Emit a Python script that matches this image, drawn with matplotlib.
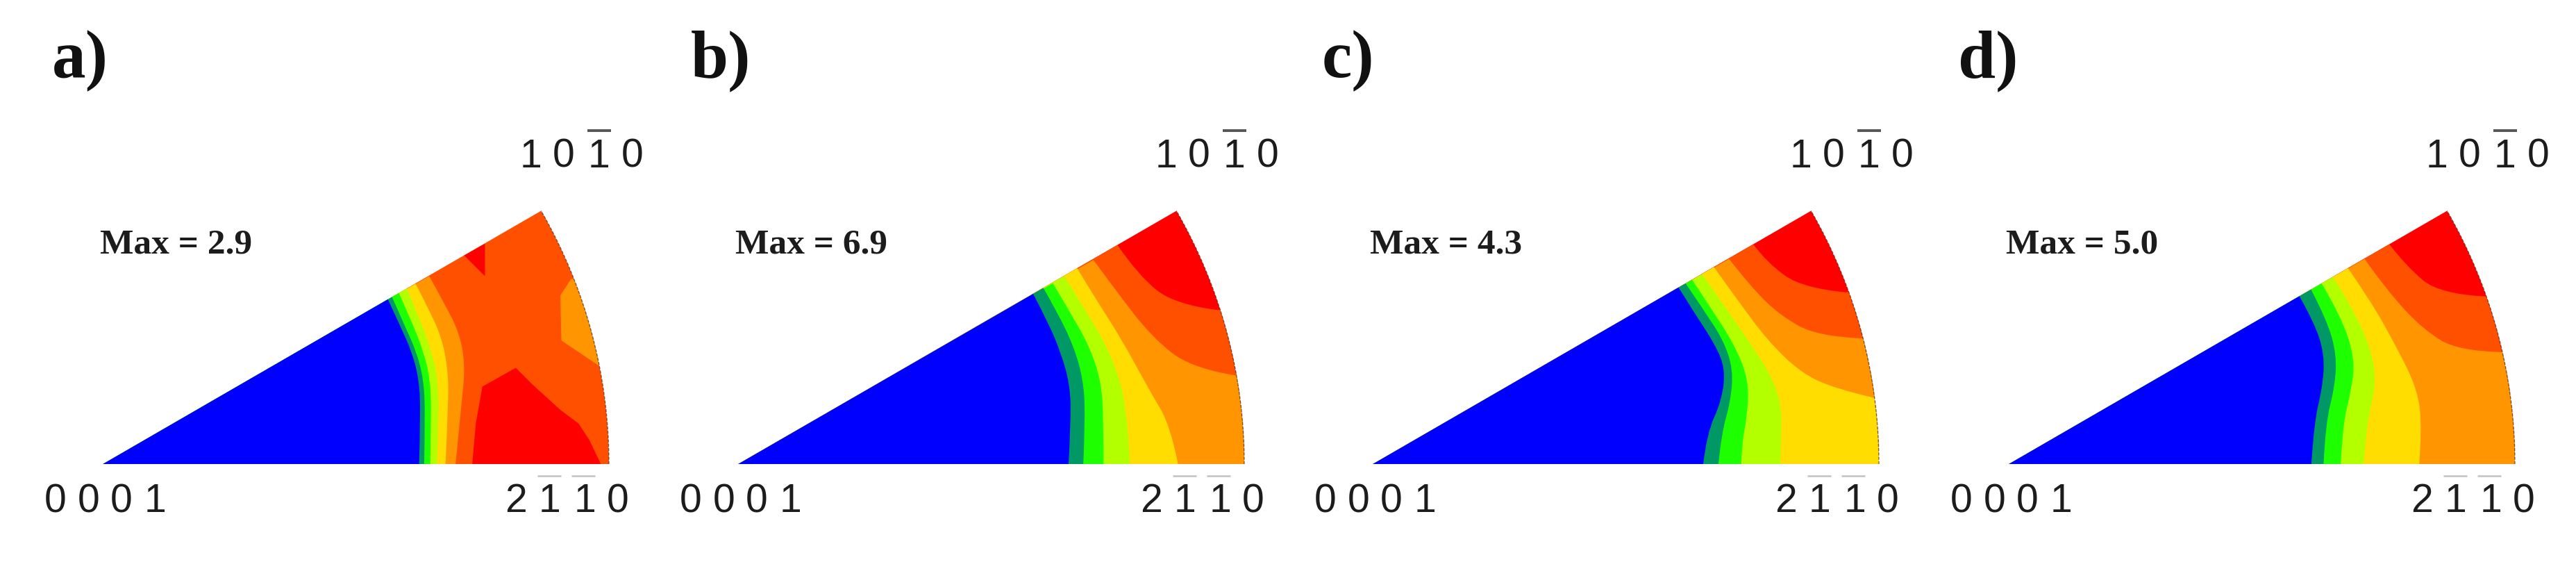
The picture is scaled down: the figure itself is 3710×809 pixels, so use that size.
import numpy as np
import matplotlib
matplotlib.use("Agg")
import matplotlib.pyplot as plt
from matplotlib.patches import Wedge, PathPatch
from matplotlib.path import Path

# Contour boundaries, (x, y) in percent of the pole figure radius.
# Each list is the upper edge of the band named after it.
a_blue = [(56.3, 32.6), (58.8, 27.2), (61.1, 22.1), (62.5, 16.6), (62.8, 9.8), (62.5, 0)]
a_dkgreen = [(57.1, 33.1), (59.7, 27.2), (62.0, 22.1), (63.4, 16.6), (63.7, 9.8), (63.5, 0)]
a_green = [(58.4, 34.0), (60.9, 28.5), (63.4, 22.1), (64.7, 16.6), (64.9, 9.8), (64.7, 0)]
a_lime = [(59.9, 34.9), (62.5, 29.0), (65.0, 22.1), (66.2, 16.6), (66.4, 9.8), (66.0, 0)]
a_yellow = [(61.8, 35.6), (64.3, 30.8), (67.0, 24.9), (68.2, 18.5), (68.3, 12.1), (67.7, 0)]
a_orange = [(64.5, 37.1), (67.5, 31.7), (70.5, 25.8), (71.6, 19.4), (70.9, 12.1), (69.7, 0)]
a_red_big = [(73.0, 0), (73.7, 8.0), (75.0, 15.3), (81.6, 19.0), (84.9, 15.7), (90.4, 10.7),
             (94.0, 8.0), (96.1, 4.8), (98.4, 0)]
a_red_small = [(71.4, 41.2), (75.5, 43.5), (75.5, 37.1)]
a_orange_island = [(92.5, 36.5), (90.4, 33.3), (90.6, 24.4), (97.9, 19.5), (103, 25), (99, 37)]

b_blue = [(58.3, 33.6), (61.3, 27.9), (63.8, 21.9), (65.5, 15.9), (65.8, 9.5), (65.3, 0)]
b_dkgreen = [(60.3, 34.8), (63.0, 30.1), (66.3, 23.3), (68.2, 16.6), (68.6, 9.5), (68.2, 0)]
b_green = [(62.2, 35.7), (65.5, 30.1), (69.2, 23.7), (71.7, 16.6), (72.2, 8.8), (72.2, 0)]
b_lime = [(64.4, 37.1), (68.4, 30.8), (72.6, 23.7), (75.5, 16.6), (76.9, 8.8), (77.4, 0)]
b_yellow = [(66.9, 38.8), (70.9, 32.2), (75.5, 25.1), (81.3, 14.5), (85.5, 7.4), (86.9, 0)]
b_orange = [(70.2, 40.3), (74.6, 34.3), (81.7, 25.1), (89.6, 18.9), (98.3, 17.5)]
b_orangered = [(74.9, 43.3), (79.2, 37.1), (86.3, 31.5), (94.8, 30.4)]

c_blue = [(60.4, 34.9), (63.9, 29.3), (67.6, 23.7), (69.7, 18.7), (68.9, 12.4), (66.0, 6.0), (65.3, 0)]
c_dkgreen = [(61.8, 35.7), (65.6, 30.1), (69.3, 24.4), (71.2, 18.7), (70.7, 12.4), (68.9, 6.0), (68.3, 0)]
c_green = [(63.1, 36.4), (66.8, 30.8), (71.4, 23.7), (74.3, 16.6), (74.0, 9.5), (73.0, 4.6), (72.8, 0)]
c_lime = [(65.1, 37.5), (69.7, 30.8), (74.7, 23.7), (78.8, 17.3), (80.7, 11.7), (80.7, 5.3), (80.5, 0)]
c_yellow = [(67.4, 38.9), (72.2, 32.2), (78.0, 24.4), (84.6, 18.0), (91.3, 14.9), (98.9, 13.1)]
c_orange = [(70.4, 40.5), (74.7, 35.0), (80.5, 29.3), (88.0, 25.2), (96.7, 24.8)]
c_orangered = [(75.1, 43.5), (78.0, 39.6), (85.1, 34.7), (93.6, 33.9)]

d_blue = [(57.4, 33.2), (60.4, 27.9), (62.4, 21.6), (62.0, 15.2), (60.3, 8.1), (59.8, 0)]
d_dkgreen = [(59.6, 34.7), (62.8, 28.6), (64.8, 21.6), (64.4, 15.2), (62.6, 8.1), (62.2, 0)]
d_green = [(61.8, 35.7), (65.6, 29.3), (68.4, 20.9), (67.7, 14.5), (66.0, 8.1), (65.6, 0)]
d_lime = [(64.0, 37.0), (68.4, 30.1), (71.9, 21.6), (72.5, 15.2), (70.7, 8.1), (70.1, 0)]
d_yellow = [(67.0, 38.7), (71.5, 32.2), (76.3, 23.7), (80.9, 14.5), (81.6, 6.7), (81.1, 0)]
d_orange = [(70.3, 40.5), (74.7, 34.3), (81.9, 26.5), (89.0, 22.3), (97.4, 22.1)]
d_orangered = [(75.1, 43.5), (78.7, 38.9), (85.1, 33.6), (94.0, 33.1)]

panel_letters = ["a)", "b)", "c)", "d)"]
max_labels = ["Max = 2.9", "Max = 6.9", "Max = 4.3", "Max = 5.0"]
digits_left = ["0", "0", "0", "1"]
digits_right = ["2", "1", "1", "0"]
digits_top = ["1", "0", "1", "0"]

RED = "#ff0000"
ORANGERED = "#ff5000"
ORANGE = "#ff9500"
YELLOW = "#ffdd00"
LIME = "#b3ff00"
GREEN = "#1eff00"
DKGREEN = "#009966"
BLUE = "#0000ff"
TEXT = "#1c1c1c"

W, H = 3710, 809
BASE_Y = 668        # baseline of the wedges, px from the top
PX = 7.29           # px per percent of radius
origins = [148, 1063, 1977, 2893]
letter_x = [75, 995, 1904, 2820]


def band(ax, clip, points, color):
    # everything below the boundary: origin, rounded boundary, then round the arc if it ends on it
    pts = np.array(points, dtype=float)
    verts = [(0, 0), tuple(pts[0])]
    codes = [Path.MOVETO, Path.LINETO]
    for k in range(1, len(pts) - 1):
        end = pts[k + 1] if k == len(pts) - 2 else (pts[k] + pts[k + 1]) / 2
        verts += [tuple(pts[k]), tuple(end)]
        codes += [Path.CURVE3, Path.CURVE3]
    xe, ye = pts[-1]
    if ye > 0:
        ang = np.arctan2(ye, xe)
        for t in np.linspace(ang, 0, 30):
            verts.append((106 * np.cos(t), 106 * np.sin(t)))
            codes.append(Path.LINETO)
    verts.append((0, 0))
    codes.append(Path.CLOSEPOLY)
    p = PathPatch(Path(verts, codes), fc=color, ec="none", lw=0)
    ax.add_patch(p)
    p.set_clip_path(clip)


def spaced(ax, digits, xs, y):
    for d, x in zip(digits, xs):
        ax.text(x, y, d, ha="center", va="baseline", fontsize=41, color=TEXT,
                family="Liberation Sans")


def panel(i, base, islands, bands):
    ox = origins[i]
    left = ox - 20 * PX
    ax = fig.add_axes([left / W, 0, 130 * PX / W, 1])
    ax.set_xlim(-20, 110)
    ax.set_ylim(-(H - BASE_Y) / PX, BASE_Y / PX)
    ax.axis("off")
    ax.patch.set_alpha(0)

    wedge = Wedge((0, 0), 100, 0, 30, fc=base, ec="none")
    ax.add_patch(wedge)
    for pts, color in islands:
        xs, ys = zip(*pts)
        p = ax.fill(xs, ys, color=color, lw=0)[0]
        p.set_clip_path(wedge)
    for pts, color in bands:
        band(ax, wedge, pts, color)

    # thin dark rim along the arc
    t = np.radians(np.linspace(0, 30, 100))
    ax.plot(100 * np.cos(t), 100 * np.sin(t), color="#3a2a20", lw=1.0, ls=(0, (3, 1.5)), alpha=0.65)

    spaced(ax, digits_left, [-9.4, -2.8, 3.7, 10.4], -9.5)
    spaced(ax, digits_right, [81.6, 88.3, 95.2, 101.7], -9.5)
    spaced(ax, digits_top, [84.6, 91.1, 98.0, 104.6], 58.6)
    # overbars
    ax.plot([95.8, 100.4], [65.9, 65.9], color="#555555", lw=2.8, solid_capstyle="butt")
    for xb in [85.9, 92.6]:
        ax.plot([xb, xb + 4.6], [-2.4, -2.4], color="#c8c8c8", lw=2, solid_capstyle="butt")

    ax.text(-0.5, 41.6, max_labels[i], fontsize=37, fontweight="bold", family="Liberation Serif",
            ha="left", va="baseline", color=TEXT)
    ax.text((letter_x[i] - ox) / PX, 76.4, panel_letters[i], fontsize=70, fontweight="bold",
            family="Liberation Serif", ha="left", va="baseline", color="#111111")


fig = plt.figure(figsize=(W / 100, H / 100), dpi=100)

panel(0, ORANGERED,
      [(a_red_big, RED), (a_red_small, RED), (a_orange_island, ORANGE)],
      [(a_orange, ORANGE), (a_yellow, YELLOW), (a_lime, LIME), (a_green, GREEN),
       (a_dkgreen, DKGREEN), (a_blue, BLUE)])
panel(1, RED, [],
      [(b_orangered, ORANGERED), (b_orange, ORANGE), (b_yellow, YELLOW), (b_lime, LIME),
       (b_green, GREEN), (b_dkgreen, DKGREEN), (b_blue, BLUE)])
panel(2, RED, [],
      [(c_orangered, ORANGERED), (c_orange, ORANGE), (c_yellow, YELLOW), (c_lime, LIME),
       (c_green, GREEN), (c_dkgreen, DKGREEN), (c_blue, BLUE)])
panel(3, RED, [],
      [(d_orangered, ORANGERED), (d_orange, ORANGE), (d_yellow, YELLOW), (d_lime, LIME),
       (d_green, GREEN), (d_dkgreen, DKGREEN), (d_blue, BLUE)])

fig.savefig("out.png", dpi=100)
